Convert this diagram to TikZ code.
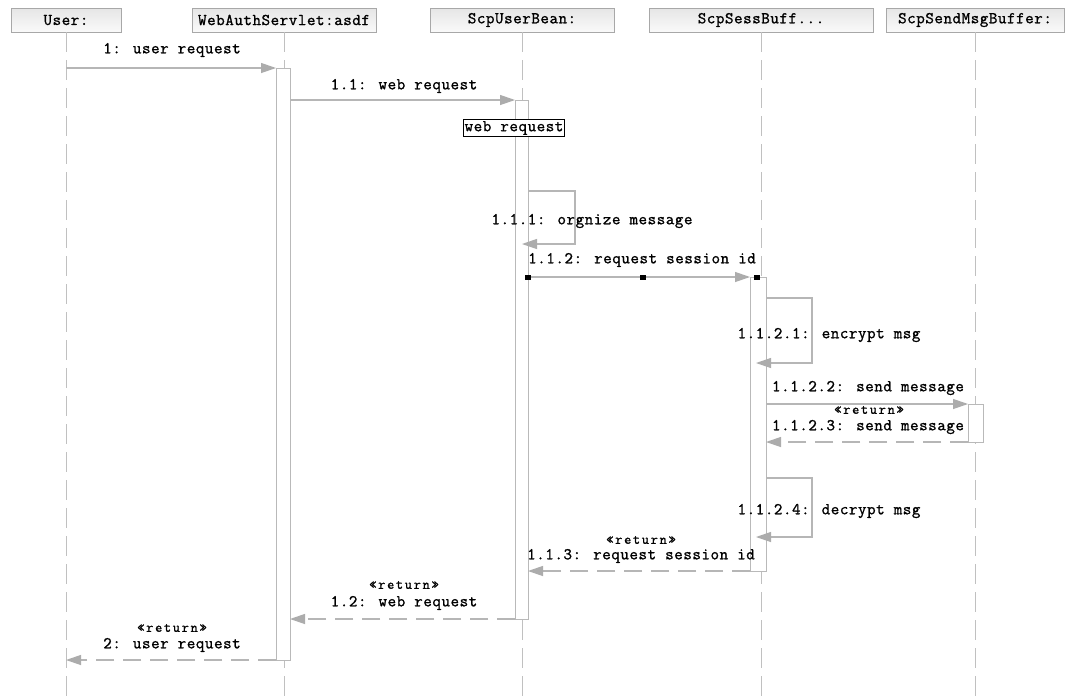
\documentclass[tikz,border=0pt]{standalone}
\usepackage{fontspec}
\usetikzlibrary{arrows.meta}
\definecolor{lifegray}{RGB}{192,192,192}
\definecolor{msggray}{RGB}{182,182,182}
\definecolor{tipgray}{RGB}{172,172,172}
\definecolor{framegray}{RGB}{168,168,168}
\definecolor{bargray}{RGB}{185,185,185}
% wide typewriter faces for all diagram text
\newfontfamily\diagface{Latin Modern Mono}[LetterSpace=3.5,FakeBold=1.2]
\newfontfamily\stereoface{Latin Modern Mono}[LetterSpace=12,FakeBold=1]
\newcommand{\diagtext}{\diagface\fontsize{16.5}{18}\selectfont}
\newcommand{\stereotext}{\stereoface\fontsize{14}{15}\selectfont}
\begin{document}
\begin{tikzpicture}[x=1pt,y=-1pt,
  every node/.style={font=\diagtext, inner sep=0pt, outer sep=0pt},
  header/.style={draw=framegray, line width=1pt, top color=black!10, bottom color=black!2,
    minimum height=24pt},
  lifeline/.style={draw=lifegray, line width=1pt, dash pattern=on 20pt off 8pt},
  actbar/.style={draw=bargray, line width=1pt, fill=white},
  msg/.style={draw=msggray, line width=1.2pt,
    -{Triangle[length=15pt,width=10pt,fill=tipgray,color=tipgray]}},
  retmsg/.style={msg, dash pattern=on 18pt off 9pt},
  lbl/.style={text=black},
  stereo/.style={font=\stereotext},
  handle/.style={fill=black, minimum width=6pt, minimum height=5pt}
]
\useasboundingbox (0,0) rectangle (1068,697);
\fill[white] (0,0) rectangle (1068,697);

% participant headers
\node[header, minimum width=110pt] (hUser) at (66,20) {User:};
\node[header, minimum width=184pt] (hWeb)  at (284,20) {WebAuthServlet:asdf};
\node[header, minimum width=184pt] (hBean) at (522,20) {ScpUserBean:};
\node[header, minimum width=224pt] (hSess) at (761,20) {ScpSessBuff...};
\node[header, minimum width=178pt] (hSend) at (975,20) {ScpSendMsgBuffer:};

\coordinate (bottom) at (0,697);

% lifelines
\foreach \h in {hUser,hWeb,hBean,hSess,hSend}
  \draw[lifeline] (\h.south) -- (\h.south |- bottom);

% activation bars
\node[actbar, minimum width=14pt, minimum height=592pt] (bar1) at (283,364) {};
\node[actbar, minimum width=13pt, minimum height=519pt] (bar2) at (521.5,359.5) {};
\node[actbar, minimum width=16pt, minimum height=294pt] (bar3) at (758,424) {};
\node[actbar, minimum width=15pt, minimum height=38pt]  (bar4) at (975.5,423) {};

% note on ScpUserBean
\node[draw=black, line width=0.9pt, fill=white, inner xsep=1pt, inner ysep=1.5pt] (note) at (514,128) {web request};

% anchor points for self messages
\coordinate (l1a) at (528,191);
\coordinate (l1b) at (575,244);
\coordinate (l1c) at (522,244);
\coordinate (l2a) at (766,298);
\coordinate (l2b) at (812,363);
\coordinate (l2c) at (756,363);
\coordinate (l3a) at (766,478);
\coordinate (l3b) at (812,537);
\coordinate (l3c) at (756,537);

% calls
\draw[msg] (hUser.south |- bar1.north) -- (bar1.north west);
\draw[msg] (bar1.east |- bar2.north) -- (bar2.north west);
\draw[msg] (l1a) -| (l1b) -- (l1c);
\draw[msg] (bar2.east |- bar3.north) -- (bar3.north west);
\draw[msg] (l2a) -| (l2b) -- (l2c);
\draw[msg] (bar3.east |- bar4.north) -- (bar4.north west);
\draw[msg] (l3a) -| (l3b) -- (l3c);

% returns
\draw[retmsg] (bar4.south west) -- (bar3.east |- bar4.south);
\draw[retmsg] (bar3.south west) -- (bar2.east |- bar3.south);
\draw[retmsg] (bar2.south west) -- (bar1.east |- bar2.south);
\draw[retmsg] (bar1.south west) -- (hUser.south |- bar1.south);

% selection handles on the session request
\node[handle] (hd1) at (bar2.east |- bar3.north) {};
\node[handle] (hd2) at (643,277) {};
\node[handle] (hd3) at (757,277) {};

% message labels
\node[lbl] (t1)    at (172,50)  {1: user request};
\node[lbl] (t11)   at (404,86)  {1.1: web request};
\node[lbl] (t111)  at (592,221) {1.1.1: orgnize message};
\node[lbl] (t112)  at (642,260) {1.1.2: request session id};
\node[lbl] (t1121) at (829,335) {1.1.2.1: encrypt msg};
\node[lbl] (t1122) at (868,388) {1.1.2.2: send message};
\node[lbl,stereo] (r1123) at (869,410) {«return»};
\node[lbl] (t1123) at (868,427) {1.1.2.3: send message};
\node[lbl] (t1124) at (829,511) {1.1.2.4: decrypt msg};
\node[lbl,stereo] (r113) at (641,540) {«return»};
\node[lbl] (t113)  at (641,556) {1.1.3: request session id};
\node[lbl,stereo] (r12) at (404,585) {«return»};
\node[lbl] (t12)   at (404,603) {1.2: web request};
\node[lbl,stereo] (r2) at (172,628) {«return»};
\node[lbl] (t2)    at (172,645) {2: user request};
\end{tikzpicture}
\end{document}
